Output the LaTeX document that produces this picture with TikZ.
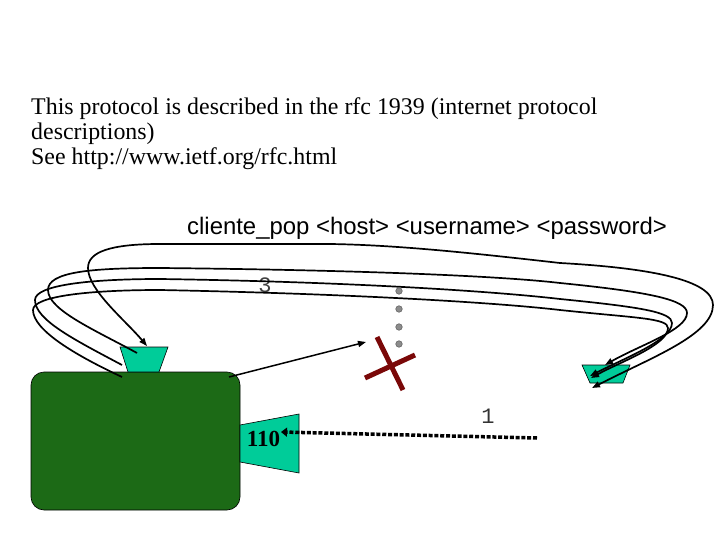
\documentclass[tikz,border=0pt]{standalone}
\usepackage{fontspec}
\setmainfont{Liberation Serif}
\setsansfont{Liberation Sans}
\setmonofont{Liberation Mono}
\usetikzlibrary{arrows.meta}
\definecolor{boxgreen}{RGB}{28,106,22}
\definecolor{portteal}{RGB}{0,204,153}
\definecolor{xred}{RGB}{122,8,8}
\definecolor{dotgray}{RGB}{140,140,140}
\begin{document}
\begin{tikzpicture}[x=1pt,y=-1pt,
  txt/.style={inner sep=0pt, anchor=base west},
  curve/.style={line width=1.7pt, black},
  tip/.style={-{Triangle[length=8pt,width=6pt]}},
  bothtips/.style={{Triangle[length=8pt,width=6pt]}-{Triangle[length=8pt,width=6pt]}},
  port/.style={fill=portteal, draw=black, line width=0.6pt},
  dotnode/.style={circle, fill=dotgray, draw=black!60, line width=0.6pt, minimum size=6.5pt, inner sep=0pt}]
\useasboundingbox (0,0) rectangle (720,540);

% texts
\node[txt] (l1) at (31,115) {\fontsize{23.9}{25}\selectfont This protocol is described in the rfc 1939 (internet protocol};
\node[txt] (l2) at (31,140) {\fontsize{23.9}{25}\selectfont descriptions)};
\node[txt] (l3) at (31,164.5) {\fontsize{23.9}{25}\selectfont See http://www.ietf.org/rfc.html};
\node[txt] (cmd) at (187,235) {\sffamily\fontsize{23.9}{25}\selectfont cliente\_pop <host> <username> <password>};

% host box and ports
\node[draw=black, line width=0.6pt, fill=boxgreen, rounded corners=13pt, minimum width=209pt, minimum height=138pt, inner sep=0pt] (host) at (135.5,441) {};
\draw[port] (120,347) -- (168,347) -- (159,372) -- (128,372) -- cycle;
\draw[port] (240,425) -- (299,414) -- (299,473) -- (240,462) -- cycle;
\draw[port] (582,365) -- (630,365) -- (623,383) -- (590,383) -- cycle;

\node[inner sep=0pt] (p110) at (263.5,439) {\bfseries\fontsize{23}{26}\selectfont 110};
\node[inner sep=0pt, text=black!75] (n3) at (265,285) {\ttfamily\fontsize{22}{24}\selectfont 3};
\node[inner sep=0pt, text=black!80] (n1) at (488,416) {\ttfamily\fontsize{22}{24}\selectfont 1};

% named end points
\coordinate (aR) at (592,388);
\coordinate (aL) at (147,346);
\coordinate (bL) at (137,353);
\coordinate (bR) at (605,365);
\coordinate (cL) at (122,365);
\coordinate (cR) at (590,376);
\coordinate (dL) at (122,377);
\coordinate (dR) at (591,378);
\coordinate (hostcorner) at (229,377);
\coordinate (probe) at (366,342);
\coordinate (dotstart) at (537,438);
\coordinate (dotend) at (281,432);

% curve A
\draw[curve, bothtips] (aR) .. controls (650,358) and (713,335) .. (713,305)
  .. controls (713,280) and (650,268) .. (560,263)
  .. controls (480,254) and (400,245) .. (330,244) -- (160,244)
  .. controls (110,244) and (88,252) .. (88,268)
  .. controls (88,290) and (125,320) .. (aL);
% curve B
\draw[curve, tip] (bL) .. controls (95,330) and (48,310) .. (48,290)
  .. controls (48,272) and (90,268) .. (160,268)
  .. controls (360,270) and (500,276) .. (560,283)
  .. controls (650,292) and (687,300) .. (687,313)
  .. controls (687,330) and (640,345) .. (bR);
% curve C
\draw[curve, tip] (cL) .. controls (75,340) and (35,320) .. (35,300)
  .. controls (35,285) and (90,279) .. (160,279)
  .. controls (360,282) and (500,292) .. (560,299)
  .. controls (640,307) and (672,312) .. (672,323)
  .. controls (672,340) and (625,358) .. (cR);
% curve D
\draw[curve, tip] (dL) .. controls (75,355) and (33,330) .. (33,310)
  .. controls (33,296) and (90,290) .. (160,290)
  .. controls (360,294) and (500,303) .. (560,310)
  .. controls (635,318) and (668,318) .. (668,328)
  .. controls (668,345) and (620,362) .. (dR);

% host to probe
\draw[line width=1.5pt, -{Triangle[length=8pt,width=6pt]}] (hostcorner) -- (probe);

% dots
\node[dotnode] (d1) at (399,291) {};
\node[dotnode] (d2) at (399,309) {};
\node[dotnode] (d3) at (399,327) {};
\node[dotnode] (d4) at (399,344) {};

% red cross
\draw[xred, line width=5pt] (377,337) -- (403,390);
\draw[xred, line width=5pt] (365,378) -- (415,355);

% dotted connection to port 110
\draw[line width=3.5pt, dash pattern=on 4pt off 1.8pt, -{Triangle[length=6pt,width=9pt]}] (dotstart) -- (dotend);
\end{tikzpicture}
\end{document}
